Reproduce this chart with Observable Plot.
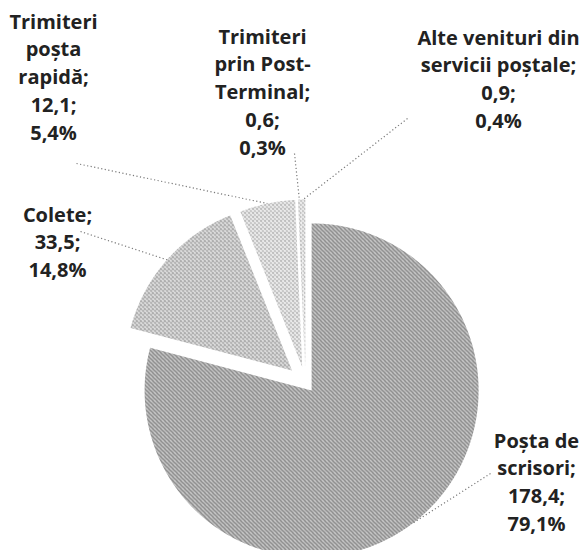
<!DOCTYPE html>
<html><head><meta charset="utf-8">
<script src="https://cdn.jsdelivr.net/npm/d3@7"></script>
<script src="https://cdn.jsdelivr.net/npm/@observablehq/plot@0.6"></script>
<style>body{margin:0;background:#fff}</style>
</head><body><div id="chart"></div>
<script>
// ---- data ----
const categories = ["Poșta de\nscrisori", "Colete", "Trimiteri\npoșta\nrapidă", "Trimiteri\nprin Post-\nTerminal", "Alte venituri din\nservicii poștale"];
const values = [178.4, 33.5, 12.1, 0.6, 0.9];
const percents = [79.1, 14.8, 5.4, 0.3, 0.4];

// ---- layout ----
const W = 580, H = 550;
const center = [305, 382];
const radius = 167;
const explode = [10, 18, 16, 16, 16];
const fills = ["url(#pat0)", "url(#pat1)", "url(#pat2)", "url(#pat2)", "url(#pat2)"];
const labelAt = [[536, 447], [57, 221], [53, 28], [262, 43], [498, 44]]; // centre x, first baseline
const leaderFrom = [[490, 473], [80, 231], [76, 163], [294, 153], [407, 118]];
const fontSize = 20, lineH = 1.4;

const fmt = v => v.toFixed(1).replace(".", ",");

const pie = d3.pie().sort(null).value(d => d)(values);
const slices = pie.map((p, i) => {
  const mid = (p.startAngle + p.endAngle) / 2;
  const ax = center[0] + explode[i] * Math.sin(mid), ay = center[1] - explode[i] * Math.cos(mid);
  const steps = Math.max(2, Math.ceil((p.endAngle - p.startAngle) / 0.01));
  const pts = [{x: ax, y: ay}];
  for (let k = 0; k <= steps; k++) {
    const a = p.startAngle + (p.endAngle - p.startAngle) * k / steps;
    pts.push({x: ax + radius * Math.sin(a), y: ay - radius * Math.cos(a)});
  }
  pts.push({x: ax, y: ay});
  return {pts, mid, ax, ay};
});
const idx = d3.range(values.length);

const defs = () => {
  const d = d3.create("svg:defs");
  const mk = (id, size, bg, dots) => {
    const p = d.append("pattern").attr("id", id).attr("patternUnits", "userSpaceOnUse")
      .attr("width", size).attr("height", size);
    p.append("rect").attr("width", size).attr("height", size).attr("fill", bg);
    dots.forEach(([x, y, c]) => p.append("rect").attr("x", x).attr("y", y).attr("width", 1).attr("height", 1).attr("fill", c));
  };
  mk("pat0", 4, "#a6a6a6", [[0,0,"#4d4d4d"],[2,2,"#555"],[1,3,"#fff"],[3,1,"#fff"],[2,0,"#c8c8c8"]]);
  mk("pat1", 4, "#d0d0d0", [[0,0,"#4d4d4d"],[2,2,"#666"],[1,3,"#fff"]]);
  mk("pat2", 4, "#e4e4e4", [[0,0,"#555"],[2,2,"#777"],[3,1,"#fff"]]);
  return d.node();
};

const chart = Plot.plot({
  width: W, height: H, margin: 0,
  x: {domain: [0, W], range: [0, W], axis: null},
  y: {domain: [0, H], range: [0, H], axis: null},
  marks: [
    defs,
    ...slices.map((s, i) => Plot.line(s.pts, {x: "x", y: "y", fill: fills[i], stroke: "none"})),
    Plot.link(idx, {
      x1: i => leaderFrom[i][0], y1: i => leaderFrom[i][1],
      x2: i => slices[i].ax + radius * Math.sin(slices[i].mid),
      y2: i => slices[i].ay - radius * Math.cos(slices[i].mid),
      stroke: "#7a7a7a", strokeWidth: 1.2, strokeDasharray: "1.2,2.4"
    }),
    Plot.text(idx, {
      x: i => labelAt[i][0],
      y: i => labelAt[i][1] - 0.71 * lineH * fontSize,
      text: i => `${categories[i]};\n${fmt(values[i])};\n${fmt(percents[i])}%`,
      lineAnchor: "top", textAnchor: "middle", lineHeight: lineH,
      fontSize, fontWeight: "bold", fontFamily: "'Open Sans', sans-serif", fill: "#222"
    })
  ]
});
document.getElementById("chart").append(chart);
</script>
</body></html>
